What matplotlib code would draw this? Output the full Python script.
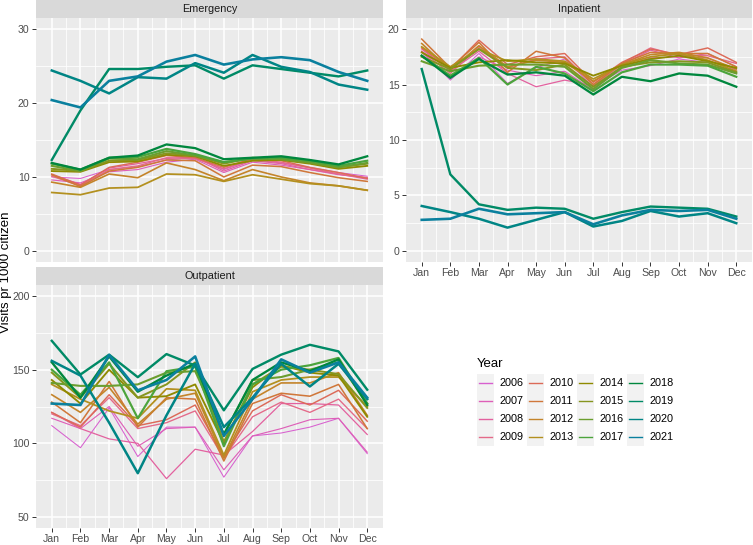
import matplotlib
matplotlib.use("Agg")
import matplotlib.pyplot as plt
import numpy as np

months = ["Jan", "Feb", "Mar", "Apr", "May", "Jun", "Jul", "Aug", "Sep", "Oct", "Nov", "Dec"]
years = list(range(2006, 2022))

colors = ["#D860CF", "#DE5FB8", "#E3619F", "#E46A89", "#DC6A58", "#D0773A",
          "#C4842A", "#B3901F", "#8F8A00", "#86951F", "#6B9E2E", "#4CA43C",
          "#00873E", "#008A66", "#008585", "#0A809E"]

emergency = {
    2006: [10.0, 9.8, 11.0, 11.4, 12.3, 12.6, 11.0, 12.3, 11.9, 11.3, 10.6, 10.1],
    2007: [9.6, 9.2, 10.7, 11.0, 12.0, 12.4, 10.6, 12.0, 11.6, 11.0, 10.3, 9.9],
    2008: [10.3, 9.0, 11.2, 11.8, 12.5, 12.7, 10.8, 12.2, 11.8, 11.0, 10.4, 9.7],
    2009: [10.1, 8.8, 11.0, 11.5, 12.6, 12.5, 11.1, 12.4, 12.0, 11.2, 10.4, 9.9],
    2010: [10.4, 8.9, 11.3, 12.0, 12.9, 12.6, 11.3, 12.5, 12.2, 11.3, 10.6, 9.8],
    2011: [10.3, 8.7, 10.8, 11.3, 12.3, 12.2, 10.0, 11.6, 11.4, 10.6, 9.9, 9.4],
    2012: [9.3, 8.6, 10.4, 9.9, 11.9, 11.0, 9.5, 11.0, 10.0, 9.2, 8.8, 8.2],
    2013: [7.9, 7.6, 8.5, 8.6, 10.4, 10.3, 9.4, 10.3, 9.7, 9.1, 8.8, 8.2],
    2014: [10.8, 10.7, 12.0, 12.1, 13.0, 12.8, 11.5, 12.2, 12.3, 11.8, 11.1, 11.5],
    2015: [11.1, 10.8, 12.2, 12.3, 13.2, 12.9, 11.8, 12.6, 12.4, 11.9, 11.3, 11.8],
    2016: [11.5, 10.8, 12.5, 12.4, 13.5, 12.9, 12.0, 12.5, 12.4, 12.0, 11.3, 11.9],
    2017: [11.8, 11.0, 12.6, 12.7, 13.8, 13.1, 12.0, 12.5, 12.6, 12.2, 11.5, 12.2],
    2018: [11.9, 11.0, 12.6, 12.9, 14.4, 13.9, 12.4, 12.6, 12.8, 12.3, 11.7, 12.8],
    2019: [12.3, 19.0, 24.6, 24.6, 24.9, 25.1, 23.3, 25.1, 24.6, 24.1, 23.6, 24.4],
    2020: [24.4, 23.0, 21.3, 23.5, 23.3, 25.4, 24.1, 26.5, 24.9, 24.2, 22.5, 21.8],
    2021: [20.4, 19.4, 23.0, 23.6, 25.6, 26.5, 25.2, 25.9, 26.2, 25.8, 24.2, 23.0],
}

inpatient = {
    2006: [18.0, 15.4, 17.8, 15.1, 16.5, 17.3, 14.8, 16.3, 16.7, 17.3, 17.0, 16.0],
    2007: [17.9, 15.6, 17.5, 16.3, 15.8, 16.2, 14.5, 16.6, 17.4, 17.5, 17.4, 16.3],
    2008: [18.2, 16.2, 18.0, 16.0, 14.8, 15.4, 14.9, 16.8, 18.1, 17.4, 17.8, 16.6],
    2009: [18.0, 16.0, 18.4, 16.5, 17.3, 17.5, 15.0, 16.9, 18.3, 17.6, 17.6, 16.9],
    2010: [18.3, 16.4, 19.0, 16.8, 17.5, 17.8, 15.2, 17.0, 18.2, 17.7, 18.3, 17.0],
    2011: [19.1, 16.5, 18.8, 16.1, 18.0, 17.4, 15.0, 16.9, 17.9, 17.8, 17.8, 16.6],
    2012: [18.7, 16.3, 18.5, 16.6, 17.2, 17.0, 15.3, 16.8, 17.7, 17.9, 17.4, 16.4],
    2013: [18.4, 16.6, 18.2, 17.1, 17.3, 17.1, 15.5, 16.8, 17.5, 17.8, 17.2, 16.2],
    2014: [17.9, 16.5, 17.0, 17.2, 17.0, 16.9, 15.8, 16.7, 17.3, 17.6, 17.1, 16.5],
    2015: [17.5, 16.4, 18.2, 16.5, 16.3, 16.8, 14.8, 16.6, 17.0, 17.1, 17.0, 16.1],
    2016: [17.1, 16.2, 16.7, 16.8, 16.8, 16.6, 14.6, 16.5, 17.2, 16.9, 16.8, 16.0],
    2017: [17.6, 15.8, 17.4, 15.0, 16.6, 16.0, 14.4, 16.1, 16.8, 16.8, 16.7, 15.7],
    2018: [17.6, 15.6, 17.3, 15.9, 16.1, 15.8, 14.1, 15.7, 15.3, 16.0, 15.8, 14.8],
    2019: [16.4, 6.9, 4.2, 3.7, 3.9, 3.8, 2.9, 3.5, 4.0, 3.9, 3.8, 3.1],
    2020: [4.05, 3.5, 2.9, 2.1, 2.8, 3.5, 2.2, 2.7, 3.6, 3.1, 3.4, 2.5],
    2021: [2.8, 2.9, 3.8, 3.3, 3.4, 3.5, 2.4, 3.2, 3.7, 3.6, 3.7, 2.9],
}

outpatient = {
    2006: [112, 97, 124, 91, 111, 111, 77, 105, 107, 111, 117, 93],
    2007: [117, 110, 125, 98, 110, 111, 82, 105, 110, 116, 117, 94],
    2008: [121, 110, 103, 100, 76, 96, 92, 108, 127, 127, 126, 106],
    2009: [120, 112, 131, 110, 114, 122, 90, 118, 128, 121, 130, 110],
    2010: [121, 111, 133, 112, 116, 126, 91, 122, 133, 126, 136, 115],
    2011: [128, 114, 142, 111, 131, 130, 88, 127, 134, 132, 140, 110],
    2012: [133, 121, 138, 113, 130, 134, 90, 130, 141, 141, 148, 119],
    2013: [140, 130, 122, 117, 137, 136, 92, 135, 143, 145, 145, 125],
    2014: [143, 127, 150, 131, 132, 140, 100, 138, 153, 148, 146, 118],
    2015: [148, 131, 154, 131, 140, 155, 101, 140, 152, 150, 147, 124],
    2016: [141, 139, 139, 140, 148, 149, 106, 143, 145, 150, 155, 127],
    2017: [150, 133, 155, 117, 149, 152, 98, 140, 150, 153, 158, 127],
    2018: [155, 131, 159, 135, 146, 154, 106, 143, 155, 149, 157, 126],
    2019: [169.6, 146.7, 160.2, 144.9, 160.6, 152.8, 122.4, 150.5, 160.2, 166.9, 162.4, 136.4],
    2020: [156, 146, 114, 79.7, 119, 154, 111, 131, 154, 138.6, 154, 130],
    2021: [127, 126, 160, 136, 143, 159, 105, 130, 157, 148, 155, 131],
}

plt.rcParams['font.family'] = ['Liberation Sans', 'DejaVu Sans']

W, H = 753, 545
fig = plt.figure(figsize=(W / 100, H / 100), dpi=100)
fig.patch.set_facecolor("white")

def box(x0, y0, x1, y1):
    return [x0 / W, 1 - y1 / H, (x1 - x0) / W, (y1 - y0) / H]

panels = [
    ("Emergency", emergency, box(36, 18, 383, 262), (0, 30), [0, 10, 20, 30], [5, 15, 25], False),
    ("Inpatient", inpatient, box(406, 18, 752, 262), (0, 20), [0, 5, 10, 15, 20], [2.5, 7.5, 12.5, 17.5], True),
    ("Outpatient", outpatient, box(36, 285, 383, 528), (50, 200), [50, 100, 150, 200], [75, 125, 175], True),
]

xs = np.arange(1, 13)
for title, data, rect, (lo, hi), yticks, yminor, showx in panels:
    ax = fig.add_axes(rect)
    ax.set_facecolor("#EBEBEB")
    pad = 0.05 * (hi - lo)
    ax.set_ylim(lo - pad, hi + pad)
    ax.set_xlim(1 - 0.55, 12 + 0.55)
    for v in yminor:
        ax.axhline(v, color="white", lw=0.55, zorder=0.5)
    for v in yticks:
        ax.axhline(v, color="white", lw=1.1, zorder=0.6)
    for v in np.arange(1.5, 12, 1.0):
        ax.axvline(v, color="white", lw=0.55, zorder=0.5)
    for v in xs:
        ax.axvline(v, color="white", lw=1.1, zorder=0.6)
    for i, yr in enumerate(years):
        lw = 0.75 + (yr - 2006) * 0.075
        ax.plot(xs, data[yr], color=colors[i], lw=lw, zorder=2, solid_joinstyle="round")
    ax.set_yticks(yticks)
    ax.set_yticklabels([str(int(v)) for v in yticks])
    ax.set_xticks(xs)
    if showx:
        ax.set_xticklabels(months)
    else:
        ax.set_xticklabels([])
    ax.tick_params(axis="both", colors="#333333", labelcolor="#4D4D4D", labelsize=7.6, length=2.8, width=0.7, pad=1.8)
    if not showx:
        ax.tick_params(axis="x", length=0)
    for s in ax.spines.values():
        s.set_visible(False)
    x0, y0, w, h = rect
    sax = fig.add_axes([x0, y0 + h, w, 18 / H])
    sax.set_facecolor("#D9D9D9")
    sax.set_xticks([]); sax.set_yticks([])
    for s in sax.spines.values():
        s.set_visible(False)
    sax.text(0.5, 0.5, title, ha="center", va="center", fontsize=7.8, color="#1A1A1A", transform=sax.transAxes)

fig.text(6 / W, 1 - 272 / H, "Visits pr 1000 citizen", rotation=90, ha="center", va="center", fontsize=9.5, color="black")

lax = fig.add_axes([0, 0, 1, 1])
lax.set_xlim(0, W); lax.set_ylim(H, 0)
lax.axis("off")
lax.text(477, 364, "Year", ha="left", va="center", fontsize=9.5, color="black")
for i, yr in enumerate(years):
    c, r = divmod(i, 4)
    kx = 477 + c * 50
    ky = 383 + r * 18
    lax.add_patch(plt.Rectangle((kx, ky - 9), 17, 18, color="#F2F2F2", lw=0))
    lax.plot([kx + 2, kx + 15], [ky, ky], color=colors[i], lw=1.0)
    lax.text(kx + 23, ky, str(yr), ha="left", va="center", fontsize=7.8, color="black")

fig.savefig("out.png", dpi=100)
